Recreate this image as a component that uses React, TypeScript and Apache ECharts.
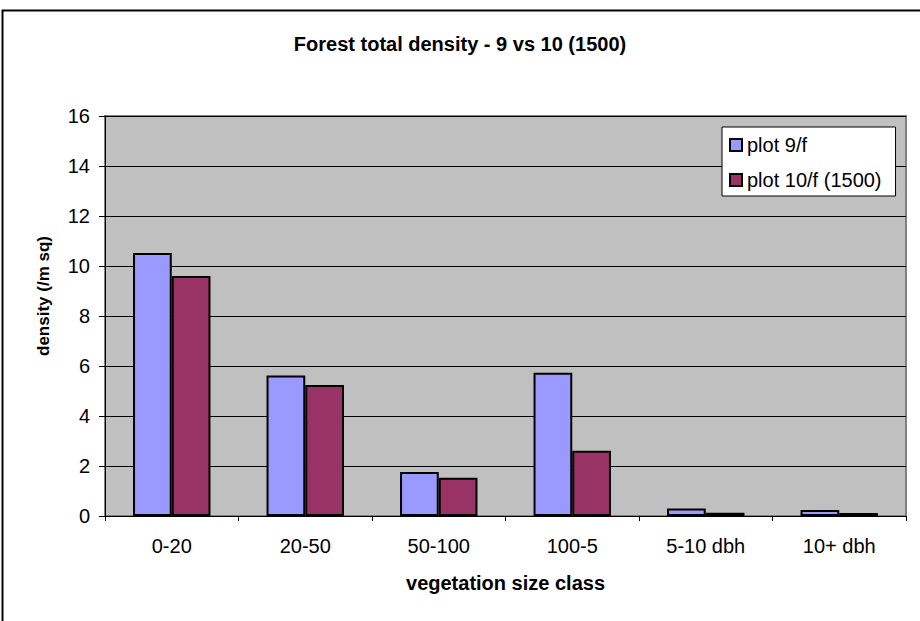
import React, { useEffect, useRef } from "react";
import * as echarts from "echarts";

const categories = ["0-20", "20-50", "50-100", "100-5", "5-10 dbh", "10+ dbh"];
const plot9 = [10.52, 5.62, 1.76, 5.73, 0.3, 0.24];
const plot10 = [9.6, 5.24, 1.53, 2.61, 0.13, 0.12];
const seriesNames = ["plot 9/f", "plot 10/f (1500)"];

const FONT = "'Liberation Sans', Arial, sans-serif";

export default function App() {
  const ref = useRef<HTMLDivElement>(null);

  useEffect(() => {
    if (!ref.current) return;
    const chart = echarts.init(ref.current, undefined, { renderer: "svg" });
    chart.setOption({
      animation: false,
      backgroundColor: "#ffffff",
      title: {
        text: "Forest total density - 9 vs 10 (1500)",
        left: "center",
        top: 29,
        textStyle: { fontFamily: FONT, fontSize: 20, fontWeight: "bold", color: "#000" },
      },
      graphic: [
        {
          type: "rect",
          shape: { x: 2.5, y: 10.5, width: 1000, height: 800 },
          style: { fill: "none", stroke: "#000", lineWidth: 2 },
          silent: true,
        },
      ],
      legend: {
        orient: "vertical",
        left: 722,
        top: 127,
        backgroundColor: "#ffffff",
        borderColor: "#000",
        borderWidth: 1,
        padding: [8, 14, 6, 7],
        itemGap: 15,
        itemWidth: 12,
        itemHeight: 12,
        icon: "rect",
        textStyle: { fontFamily: FONT, fontSize: 20, color: "#000" },
        data: seriesNames,
      },
      grid: {
        left: 105,
        right: 14,
        top: 116,
        bottom: 105,
        show: true,
        backgroundColor: "#c0c0c0",
        borderColor: "#808080",
        borderWidth: 2,
      },
      xAxis: {
        type: "category",
        data: categories,
        boundaryGap: true,
        name: "vegetation size class",
        nameLocation: "middle",
        nameGap: 57,
        nameTextStyle: { fontFamily: FONT, fontSize: 20, fontWeight: "bold", color: "#000" },
        axisLine: { lineStyle: { color: "#000", width: 1 } },
        axisTick: { show: true, length: 5, lineStyle: { color: "#000" } },
        axisLabel: { fontFamily: FONT, fontSize: 20, color: "#000", margin: 20 },
      },
      yAxis: {
        type: "value",
        min: 0,
        max: 16,
        interval: 2,
        name: "density (/m sq)",
        nameLocation: "middle",
        nameGap: 53,
        nameRotate: 90,
        nameTextStyle: {
          fontFamily: FONT,
          fontSize: 17,
          fontWeight: "bold",
          color: "#000",
          padding: [0, 0, 0, 40],
        },
        axisLine: { show: true, lineStyle: { color: "#000", width: 1 } },
        axisTick: { show: true, length: 6, lineStyle: { color: "#000" } },
        axisLabel: { fontFamily: FONT, fontSize: 20, color: "#000", margin: 15 },
        splitLine: { show: true, lineStyle: { color: "#000", width: 1 } },
      },
      series: [
        {
          name: seriesNames[0],
          type: "bar",
          data: plot9,
          barGap: "0%",
          barCategoryGap: "42%",
          itemStyle: { color: "#9999ff", borderColor: "#000", borderWidth: 2 },
        },
        {
          name: seriesNames[1],
          type: "bar",
          data: plot10,
          barGap: "0%",
          barCategoryGap: "42%",
          itemStyle: { color: "#993366", borderColor: "#000", borderWidth: 2 },
        },
      ],
    });
    return () => chart.dispose();
  }, []);

  return (
    <div
      ref={ref}
      style={{ position: "fixed", left: 0, top: 0, width: 920, height: 621 }}
    />
  );
}
